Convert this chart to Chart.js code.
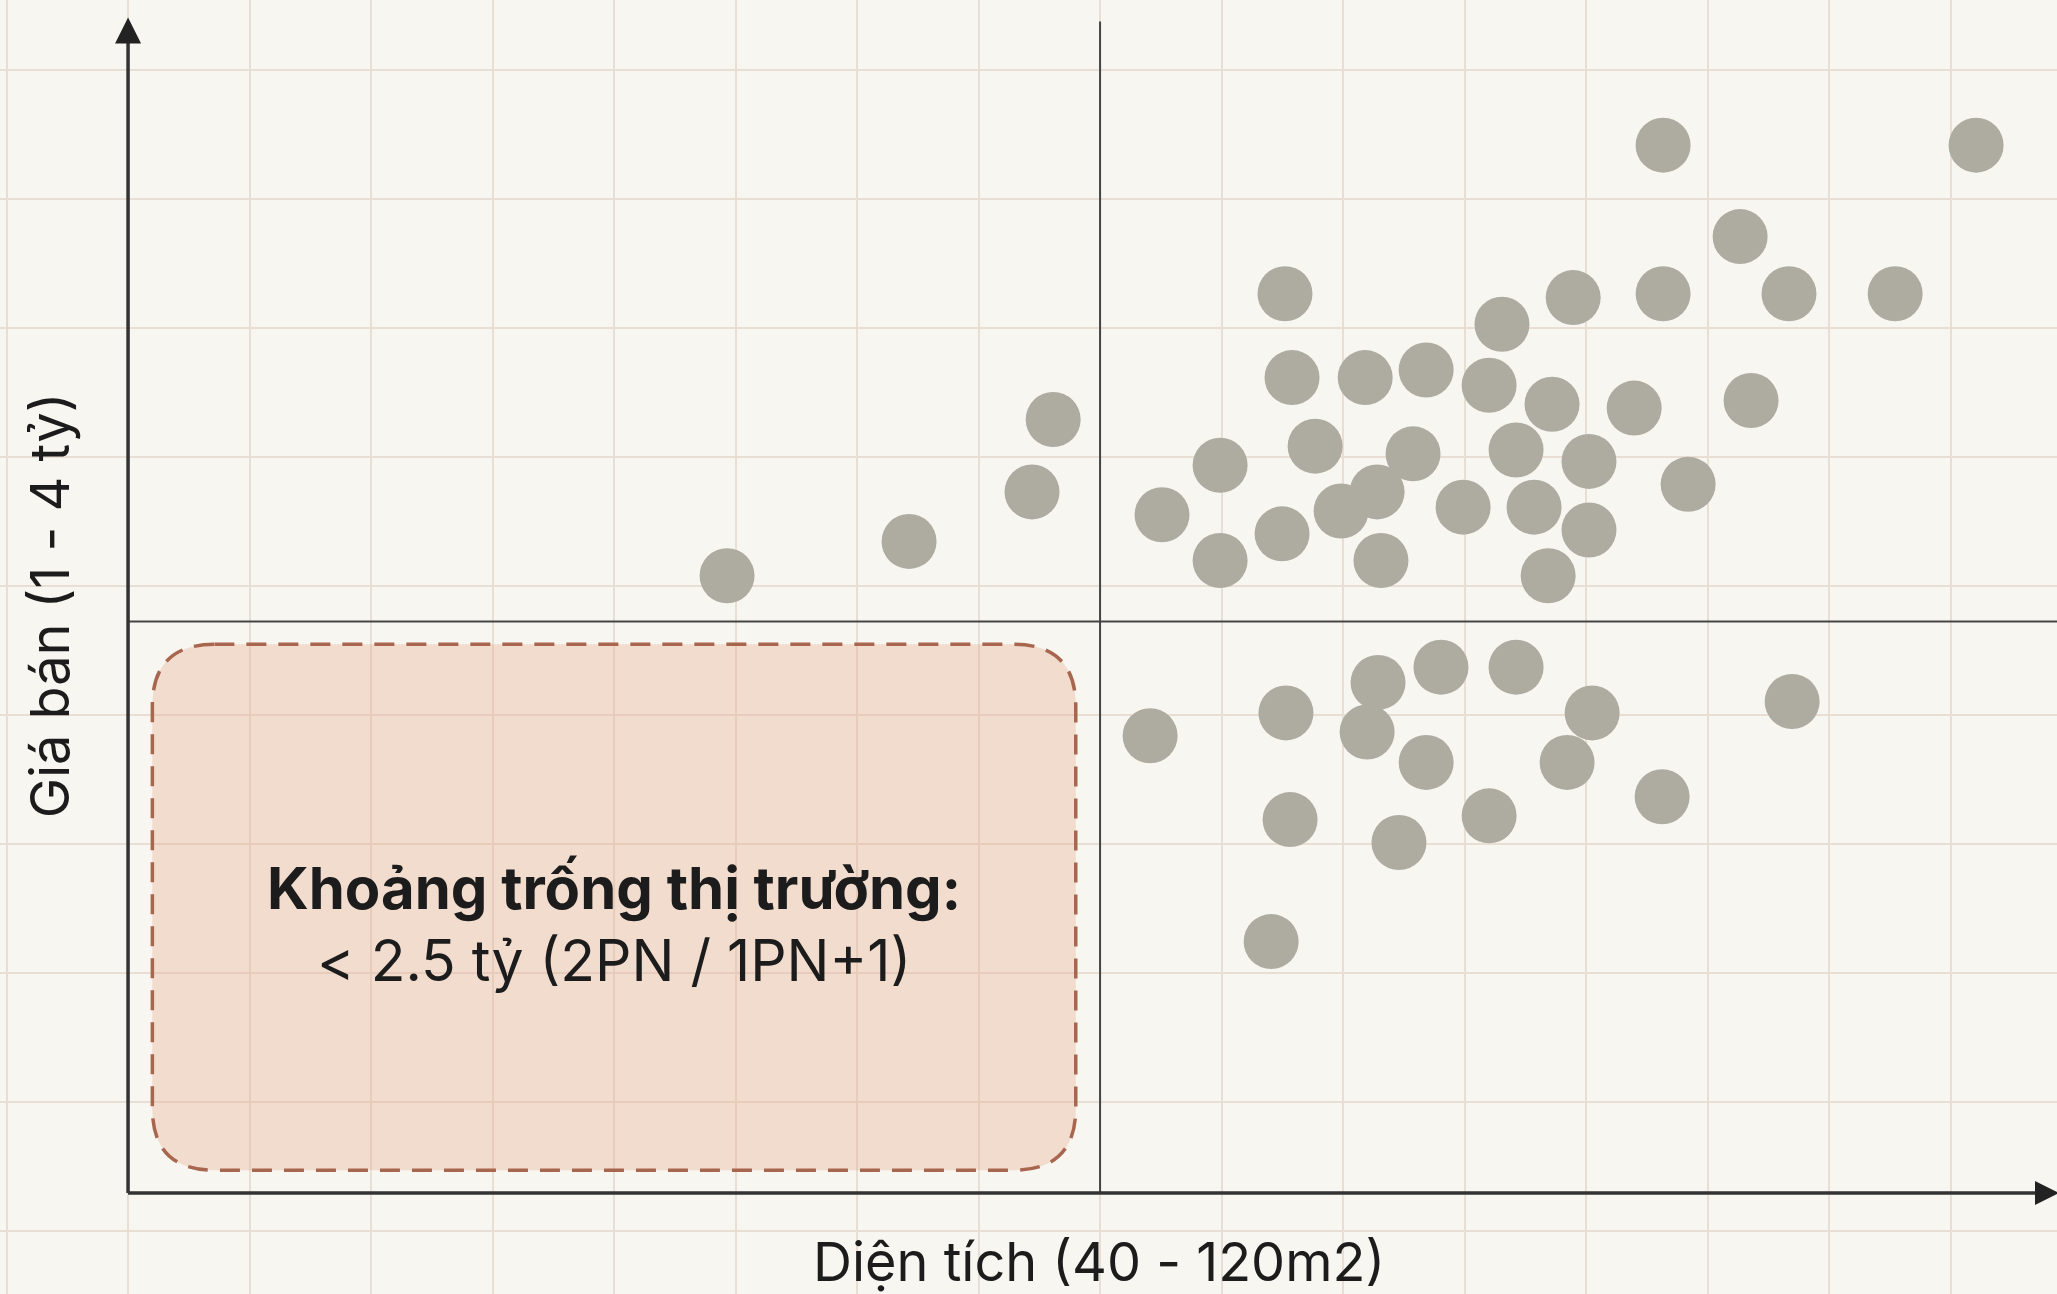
<!DOCTYPE html>
<html lang="vi">
<head>
<meta charset="utf-8">
<title>Khoảng trống thị trường</title>
<script src="https://cdn.jsdelivr.net/npm/chart.js@4.4.1/dist/chart.umd.min.js"></script>
<style>
    html, body { margin: 0; padding: 0; background: #f7f6f1; overflow: hidden; }
    #wrap { width: 2057px; height: 1294px; }
</style>
</head>
<body>
<div id="wrap"><canvas id="gapChart" width="2057" height="1294"></canvas></div>
<script>
// Diện tích (m2) of each project
const dienTich = [
    64.65, 72.14, 77.20, 78.07,
    82.55, 84.94, 84.94, 87.61, 87.90, 87.49, 88.85, 90.91, 89.92, 91.40,
    91.56, 92.88, 93.42, 94.94, 96.01, 96.54, 97.12, 97.86, 98.44, 98.60,
    99.47, 100.12, 100.12, 101.98, 103.17, 103.17, 104.20, 106.34, 106.79,
    108.35, 112.72, 116.05,
    82.06, 87.65, 87.82, 87.04, 90.99, 91.44, 92.30, 93.42, 94.03, 96.01,
    97.12, 99.22, 100.25, 103.13, 108.48
];

// Giá bán (tỷ) of each project, same order
const giaBan = [
    2.62, 2.71, 2.84, 3.03,
    2.78, 2.91, 2.66, 3.36, 3.14, 2.73, 2.96, 3.14, 2.79, 2.84,
    2.66, 2.94, 3.16, 2.80, 3.12, 3.28, 2.95, 2.80, 2.62, 3.07,
    3.35, 2.92, 2.74, 3.06, 3.75, 3.36, 2.86, 3.51, 3.08,
    3.36, 3.36, 3.75,
    2.20, 2.26, 1.98, 1.66, 2.21, 2.34, 1.92, 2.13, 2.38, 1.99,
    2.38, 2.13, 2.26, 2.04, 2.29
];

// axis ranges (visible paper extends past the drawn axes)
const xRange = [34.73, 119.38];
const yRange = [0.735, 4.131];
const xAxisStart = 40;      // diện tích min
const yAxisStart = 1;       // giá min
const yAxisTop = 4.08;
const splitX = 80;          // quadrant split, m2
const splitY = 2.5;         // quadrant split, tỷ

// market gap region
const gapX = [41, 79];
const gapY = [1.06, 2.44];
const gapTitle = "Khoảng trống thị trường:";
const gapSub = "< 2.5 tỷ (2PN / 1PN+1)";

const xTitle = "Diện tích (40 - 120m2)";
const yTitle = "Giá bán (1 - 4 tỷ)";

// paper grid
const gridX0 = 35, gridXStep = 5;
const gridY0 = 0.9, gridYStep = 0.3386;

const FONT = "Inter, 'Noto Sans', sans-serif";
const INK = "#1c1c1c";

function gridTicks(start, step, max) {
    const ticks = [];
    for (let v = start; v <= max; v += step) ticks.push({ value: v });
    return ticks;
}

function roundRect(ctx, x, y, w, h, r) {
    ctx.beginPath();
    ctx.moveTo(x + r, y);
    ctx.lineTo(x + w - r, y);
    ctx.quadraticCurveTo(x + w, y, x + w, y + r);
    ctx.lineTo(x + w, y + h - r);
    ctx.quadraticCurveTo(x + w, y + h, x + w - r, y + h);
    ctx.lineTo(x + r, y + h);
    ctx.quadraticCurveTo(x, y + h, x, y + h - r);
    ctx.lineTo(x, y + r);
    ctx.quadraticCurveTo(x, y, x + r, y);
    ctx.closePath();
}

const quadrantPlugin = {
    id: "quadrant",
    beforeDatasetsDraw(chart) {
        const { ctx, chartArea, scales: { x, y } } = chart;
        const x0 = x.getPixelForValue(xAxisStart);
        const y0 = y.getPixelForValue(yAxisStart);
        const yTop = y.getPixelForValue(yAxisTop);
        const xMid = x.getPixelForValue(splitX);
        const yMid = y.getPixelForValue(splitY);
        const right = chartArea.right;

        ctx.save();

        // gap box
        const bx = x.getPixelForValue(gapX[0]);
        const bw = x.getPixelForValue(gapX[1]) - bx;
        const by = y.getPixelForValue(gapY[1]);
        const bh = y.getPixelForValue(gapY[0]) - by;
        roundRect(ctx, bx, by, bw, bh, 62);
        ctx.fillStyle = "rgba(230, 165, 135, 0.32)";
        ctx.fill();
        ctx.setLineDash([20, 12]);
        ctx.lineWidth = 3.5;
        ctx.strokeStyle = "#a8664f";
        ctx.stroke();
        ctx.setLineDash([]);

        // quadrant split lines
        ctx.strokeStyle = "#444";
        ctx.lineWidth = 2;
        ctx.beginPath();
        ctx.moveTo(xMid, y0);
        ctx.lineTo(xMid, yTop + 2);
        ctx.moveTo(x0, yMid);
        ctx.lineTo(right, yMid);
        ctx.stroke();

        // main axes
        ctx.strokeStyle = "#333";
        ctx.lineWidth = 3.5;
        ctx.beginPath();
        ctx.moveTo(x0, y0);
        ctx.lineTo(x0, yTop + 20);
        ctx.moveTo(x0, y0);
        ctx.lineTo(right - 12, y0);
        ctx.stroke();

        // arrow heads
        ctx.fillStyle = "#222";
        ctx.beginPath();
        ctx.moveTo(x0, yTop - 2);
        ctx.lineTo(x0 - 13, yTop + 24);
        ctx.lineTo(x0 + 13, yTop + 24);
        ctx.closePath();
        ctx.fill();
        ctx.beginPath();
        ctx.moveTo(right + 2, y0);
        ctx.lineTo(right - 22, y0 - 12);
        ctx.lineTo(right - 22, y0 + 12);
        ctx.closePath();
        ctx.fill();

        ctx.restore();
    },
    afterDraw(chart) {
        const { ctx, scales: { x, y } } = chart;
        ctx.save();
        ctx.fillStyle = INK;
        ctx.textAlign = "center";
        ctx.textBaseline = "middle";

        // gap label
        const cx = x.getPixelForValue((gapX[0] + gapX[1]) / 2);
        const cy = y.getPixelForValue((gapY[0] + gapY[1]) / 2);
        ctx.font = "bold 58px " + FONT;
        ctx.fillText(gapTitle, cx, cy - 16);
        ctx.font = "57px " + FONT;
        ctx.fillText(gapSub, cx, cy + 57);

        // axis titles
        ctx.font = "54px " + FONT;
        ctx.fillText(xTitle, x.getPixelForValue(splitX) - 1, y.getPixelForValue(yAxisStart) + 72);

        ctx.translate(x.getPixelForValue(xAxisStart) - 75, y.getPixelForValue(splitY) - 16);
        ctx.rotate(-Math.PI / 2);
        ctx.fillText(yTitle, 0, 0);
        ctx.restore();
    }
};

const points = dienTich.map((v, i) => ({ x: v, y: giaBan[i] }));

new Chart(document.getElementById("gapChart"), {
    type: "scatter",
    data: {
        datasets: [{
            label: "Dự án",
            data: points,
            backgroundColor: "#aeaca1",
            borderWidth: 0,
            pointRadius: 27.5,
            pointHoverRadius: 27.5,
            clip: false
        }]
    },
    options: {
        responsive: false,
        animation: false,
        devicePixelRatio: 1,
        layout: { padding: 0, autoPadding: false },
        plugins: {
            legend: { display: false },
            tooltip: { enabled: false }
        },
        scales: {
            x: {
                type: "linear",
                min: xRange[0],
                max: xRange[1],
                border: { display: false },
                grid: { color: "#e8ded4", lineWidth: 2, drawTicks: false },
                ticks: { display: false },
                afterBuildTicks: s => { s.ticks = gridTicks(gridX0, gridXStep, xRange[1]); }
            },
            y: {
                type: "linear",
                min: yRange[0],
                max: yRange[1],
                border: { display: false },
                grid: { color: "#e8ded4", lineWidth: 2, drawTicks: false },
                ticks: { display: false },
                afterBuildTicks: s => { s.ticks = gridTicks(gridY0, gridYStep, yRange[1]); }
            }
        }
    },
    plugins: [quadrantPlugin]
});
</script>
</body>
</html>
